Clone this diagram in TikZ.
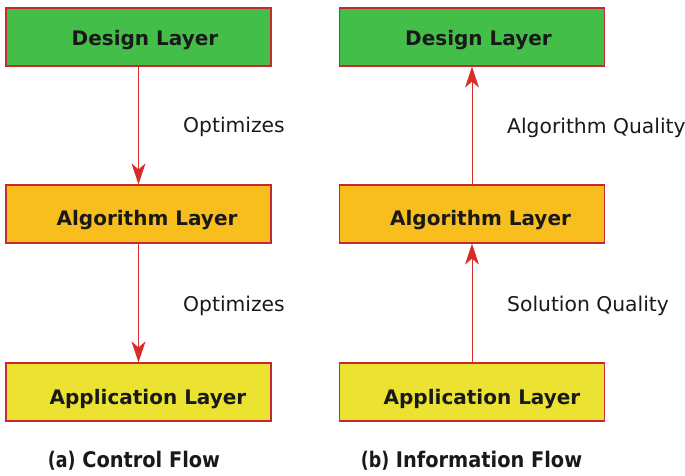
\documentclass[tikz,border=0pt]{standalone}
\usepackage{fontspec}
\setmainfont{DejaVu Sans}
\newfontfamily\condbold{DejaVu Sans Condensed}
\usetikzlibrary{arrows.meta}
\definecolor{boxgreen}{RGB}{67,190,72}
\definecolor{boxorange}{RGB}{248,190,30}
\definecolor{boxyellow}{RGB}{236,226,50}
\definecolor{boxborder}{RGB}{200,40,50}
\definecolor{arrred}{RGB}{215,45,40}
\definecolor{txt}{RGB}{25,25,25}
\tikzset{
  layer/.style={draw=boxborder, line width=1.2pt, minimum width=265pt, minimum height=58pt, inner sep=0pt},
  boxtext/.style={anchor=base, inner sep=0pt, font=\fontsize{20}{22}\selectfont\bfseries, text=txt},
  flow/.style={draw=arrred, line width=1pt, -{Stealth[length=21pt,width=14pt,inset=6pt]}},
  lbl/.style={anchor=base west, inner sep=0pt, font=\fontsize{20.3}{22}\selectfont, text=txt},
  captext/.style={anchor=base, inner sep=0pt, font=\fontsize{21.5}{24}\selectfont\bfseries, text=txt}
}
\begin{document}
\begin{tikzpicture}[x=1pt,y=-1pt]
\useasboundingbox (0,0) rectangle (685,476);
% left column
\node[layer, fill=boxgreen] (ld) at (138.5,37) {};
\node[layer, fill=boxorange] (la) at (138.5,214) {};
\node[layer, fill=boxyellow] (lp) at (138.5,392) {};
\node[boxtext] (ldt) at (145,46) {Design Layer};
\node[boxtext] (lat) at (147,225) {Algorithm Layer};
\node[boxtext] (lpt) at (148,404) {Application Layer};
% right column
\node[layer, fill=boxgreen] (rd) at (472,37) {};
\node[layer, fill=boxorange] (ra) at (472,214) {};
\node[layer, fill=boxyellow] (rp) at (472,392) {};
\node[boxtext] (rdt) at (478.5,46) {Design Layer};
\node[boxtext] (rat) at (480.5,225) {Algorithm Layer};
\node[boxtext] (rpt) at (482,404) {Application Layer};
% arrows
\draw[flow] (ld) -- (la);
\draw[flow] (la) -- (lp);
\draw[flow] (ra) -- (rd);
\draw[flow] (rp) -- (ra);
% labels
\node[lbl] (l1) at (183,132) {Optimizes};
\node[lbl] (l2) at (183,311) {Optimizes};
\node[lbl] (r1) at (507,133) {Algorithm Quality};
\node[lbl] (r2) at (507,311) {Solution Quality};
% captions
\node[captext] (ca) at (134,467) {\scalebox{0.9}[1]{{\condbold(a)} Control Flow}};
\node[captext] (cb) at (471.5,467) {\scalebox{0.9}[1]{{\condbold(b)} Information Flow}};
\end{tikzpicture}
\end{document}
